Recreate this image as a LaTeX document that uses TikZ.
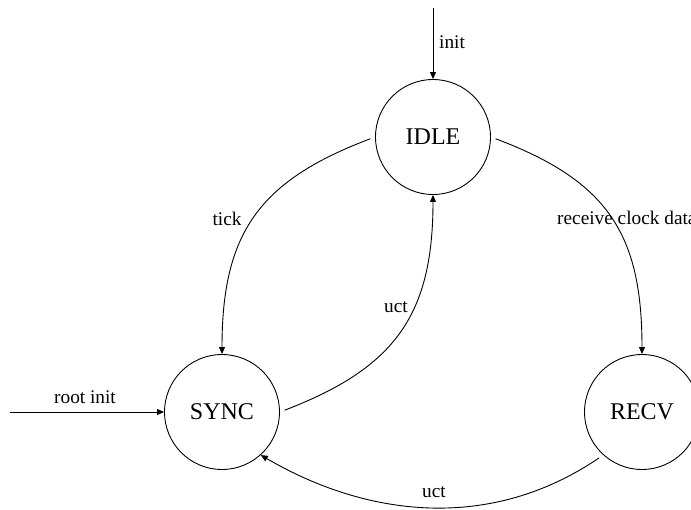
\documentclass[tikz,border=0pt]{standalone}
\usepackage{fontspec}
\setmainfont{Liberation Serif}
\usetikzlibrary{arrows.meta}
\begin{document}
\begin{tikzpicture}[x=1pt,y=-1pt,
  state/.style={draw,circle,line width=0.9pt,minimum size=115pt,inner sep=0pt,
    font=\fontsize{24}{28}\selectfont},
  lbl/.style={inner sep=0pt,font=\fontsize{19.3}{23}\selectfont},
  edge/.style={line width=0.9pt,-{Triangle[length=7pt,width=6pt]}},
  gapped/.style={shorten <=5pt}]
  \clip (0,0) rectangle (691,509);

  % states
  \node[state] (idle) at (433,137) {IDLE};
  \node[state] (sync) at (222,412) {SYNC};
  \node[state] (recv) at (642,412) {RECV};

  % free ends of the entry arrows
  \coordinate (initsrc) at (433,8);
  \coordinate (rootsrc) at (10,412);

  % entry arrows
  \draw[edge] (initsrc) -- (idle.90);
  \draw[edge] (rootsrc) -- (sync.180);

  % transitions
  \draw[edge,gapped] (idle.180) .. controls +(-117,44) and +(0,-120) .. (sync.90);
  \draw[edge,gapped] (idle.0) .. controls +(117,44) and +(0,-120) .. (recv.90);
  \draw[edge,gapped] (sync.0) .. controls +(115,-44) and +(0,120) .. (idle.270);
  \draw[edge,gapped] (recv.228) .. controls +(-113,77) and +(106,62) .. (sync.312);

  % labels
  \node[lbl,anchor=west] (linit) at (439,42) {init};
  \node[lbl] (lroot) at (85,397) {root init};
  \node[lbl] (ltick) at (227,219) {tick};
  \node[lbl,anchor=west] (lrecv) at (557,218) {receive clock data};
  \node[lbl] (luct1) at (396,307) {uct};
  \node[lbl] (luct2) at (434,492) {uct};
\end{tikzpicture}
\end{document}
